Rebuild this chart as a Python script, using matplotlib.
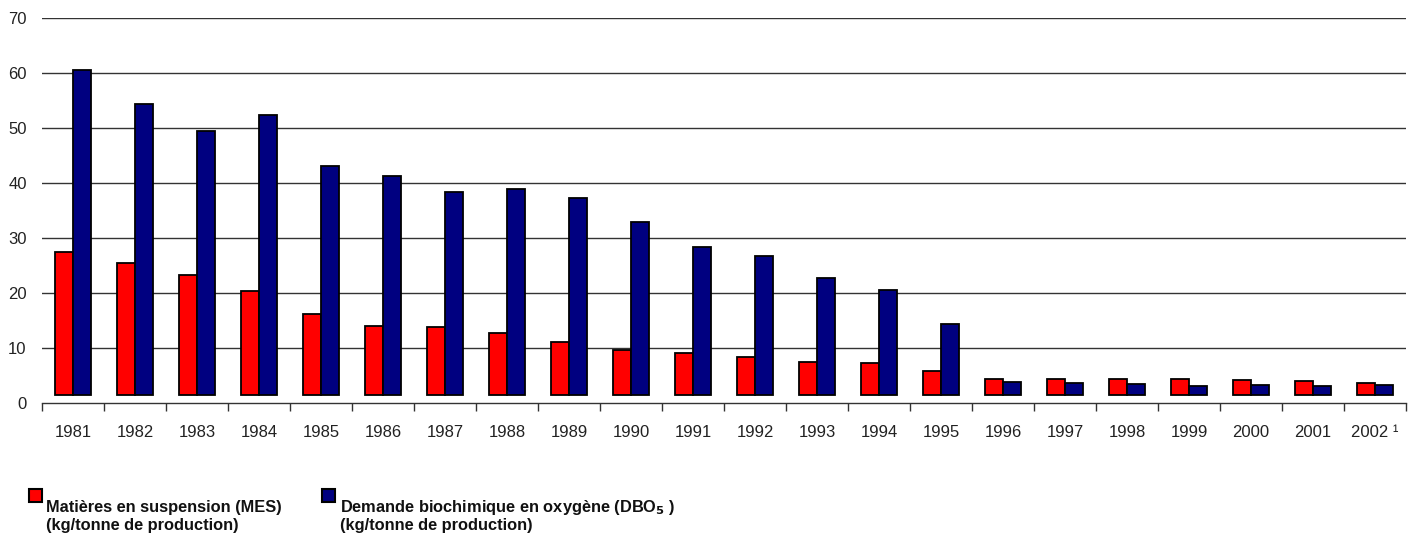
import numpy as np
import matplotlib.pyplot as plt
from matplotlib.patches import Rectangle

plt.rcParams['font.family'] = ['Liberation Sans', 'DejaVu Sans']

years = ['1981', '1982', '1983', '1984', '1985', '1986', '1987', '1988', '1989', '1990',
         '1991', '1992', '1993', '1994', '1995', '1996', '1997', '1998', '1999', '2000',
         '2001', '2002 ¹']
mes = [27.4, 25.4, 23.3, 20.3, 16.2, 14.0, 13.8, 12.8, 11.1, 9.6,
       9.1, 8.4, 7.4, 7.2, 5.8, 4.3, 4.4, 4.4, 4.3, 4.1,
       4.0, 3.7]
dbo = [60.6, 54.4, 49.5, 52.4, 43.1, 41.3, 38.3, 38.9, 37.3, 32.9,
       28.4, 26.7, 22.8, 20.6, 14.4, 3.9, 3.7, 3.4, 3.1, 3.2,
       3.1, 3.3]
yticks = [0, 10, 20, 30, 40, 50, 60, 70]

red = '#ff0000'
navy = '#000080'
base = 1.5  # bars float slightly above the axis line in the original

fig = plt.figure(figsize=(14.17, 5.4), dpi=100)
fig.patch.set_facecolor('white')
ax = fig.add_axes([0.0296, 0.2537, 0.9626, 0.7130])

x = np.arange(len(years))
w = 0.29
ax.bar(x - w / 2, np.array(mes) - base, w, bottom=base, color=red,
       edgecolor='black', linewidth=1.3, zorder=3)
ax.bar(x + w / 2, np.array(dbo) - base, w, bottom=base, color=navy,
       edgecolor='black', linewidth=1.3, zorder=3)

ax.set_xlim(-0.5, len(years) - 0.5)
ax.set_ylim(0, 70)
ax.set_yticks(yticks)
ax.set_yticklabels([str(t) for t in yticks], fontsize=12, color='#222222')
ax.tick_params(axis='y', length=0, pad=11)
for t in yticks[1:]:
    ax.axhline(t, color='#333333', linewidth=1, zorder=1)

ax.set_xticks(x)
ax.set_xticklabels(years, fontsize=12, color='#222222')
ax.tick_params(axis='x', length=0, pad=16)
ax.set_xticks(np.arange(-0.5, len(years)), minor=True)
ax.tick_params(axis='x', which='minor', length=6, width=1, color='#333333', direction='out')

for s in ['left', 'right', 'top']:
    ax.spines[s].set_visible(False)
ax.spines['bottom'].set_color('#333333')
ax.spines['bottom'].set_linewidth(1)

# legend
fig.patches.append(Rectangle((29 / 1417, 1 - 502 / 540), 13 / 1417, 13 / 540,
                             transform=fig.transFigure, facecolor=red,
                             edgecolor='black', linewidth=1.5))
fig.patches.append(Rectangle((322 / 1417, 1 - 502 / 540), 13 / 1417, 13 / 540,
                             transform=fig.transFigure, facecolor=navy,
                             edgecolor='black', linewidth=1.5))
fig.text(46 / 1417, 1 - 512 / 540, 'Matières en suspension (MES)', fontsize=11.8,
         fontweight='bold', va='baseline', ha='left', color='#111111')
fig.text(46 / 1417, 1 - 530 / 540, '(kg/tonne de production)', fontsize=11.8,
         fontweight='bold', va='baseline', ha='left', color='#111111')
fig.text(340 / 1417, 1 - 512 / 540, 'Demande biochimique en oxygène (DBO$_\\mathbf{5}$ )',
         fontsize=11.8, fontweight='bold', va='baseline', ha='left', color='#111111')
fig.text(340 / 1417, 1 - 530 / 540, '(kg/tonne de production)', fontsize=11.8,
         fontweight='bold', va='baseline', ha='left', color='#111111')

fig.savefig('out.png', dpi=100)
